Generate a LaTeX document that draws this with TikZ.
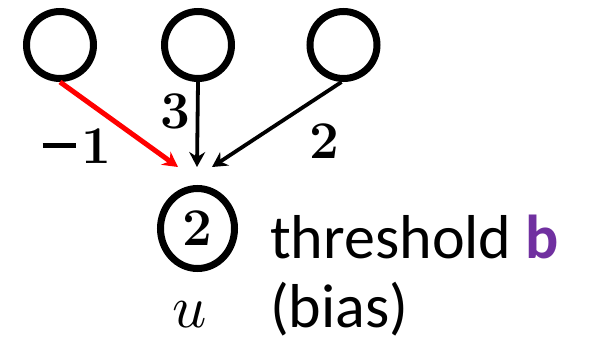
\documentclass[tikz,border=0pt]{standalone}
\usepackage{fontspec}
\usepackage{unicode-math}
\setmathfont{Latin Modern Math}
\usetikzlibrary{arrows.meta,shapes.geometric}
\newfontfamily\calib{Carlito}
\definecolor{bpurple}{RGB}{112,48,160}
\definecolor{arred}{RGB}{255,0,0}
\tikzset{
  inunit/.style={circle,draw=black,line width=7pt,minimum size=67pt,inner sep=0pt},
  outunit/.style={ellipse,draw=black,line width=7pt,minimum width=74pt,minimum height=80pt,inner sep=0pt},
  conn/.style={line width=3.8pt,-{Stealth[length=15pt,width=16pt,inset=5pt]}},
  wlabel/.style={inner sep=0pt,anchor=base,font=\fontsize{53}{60}\selectfont\bfseries},
  sidetext/.style={inner sep=0pt,anchor=base west,font=\calib\fontsize{62}{70}\selectfont}
}
\begin{document}
\begin{tikzpicture}[x=1pt,y=-1pt]
\useasboundingbox (0,0) rectangle (592,346);
\node[inunit] (a) at (60,45) {};
\node[inunit] (b) at (198,45) {};
\node[inunit] (c) at (343.5,45) {};
\node[outunit] (o) at (197.5,228.5) {};
\node[wlabel] (ov) at (197,245) {2};
\coordinate (ta) at (178,167);
\coordinate (tb) at (197,167);
\coordinate (tc) at (212,167);
\draw[conn,draw=arred,line width=5pt] (a.south) -- (ta);
\draw[conn] (b.south) -- (tb);
\draw[conn] ([xshift=-2pt]c.south) -- (tc);
\node[wlabel] (la) at (77,163) {\rule[15pt]{33pt}{5pt}\hspace{6pt}1};
\node[wlabel] (lb) at (175,128) {3};
\node[wlabel] (lc) at (324,158) {2};
\node[inner sep=0pt,anchor=base,font=\fontsize{60}{66}\selectfont] (u) at (190,327) {$u$};
\node[sidetext] (t1) at (270,258) {threshold \textbf{\color{bpurple}b}};
\node[sidetext] (t2) at (270,327) {(bias)};
\end{tikzpicture}
\end{document}
